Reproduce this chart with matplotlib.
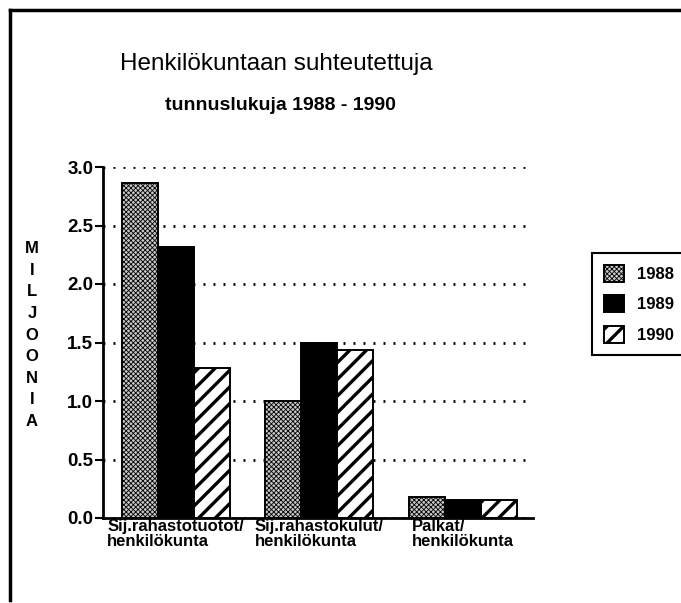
import matplotlib
matplotlib.use("Agg")
import matplotlib.pyplot as plt
import numpy as np
from matplotlib.lines import Line2D

plt.rcParams['font.family'] = ['Liberation Sans', 'DejaVu Sans']
plt.rcParams['hatch.linewidth'] = 2.4
plt.rcParams['hatch.color'] = 'black'

# Data
categories = ['Sij.rahastotuotot/\nhenkilökunta',
              'Sij.rahastokulut/\nhenkilökunta',
              'Palkat/\nhenkilökunta']
years = ['1988', '1989', '1990']
values_1988 = [2.86, 1.00, 0.18]
values_1989 = [2.32, 1.50, 0.15]
values_1990 = [1.28, 1.44, 0.15]
y_ticks = [0.0, 0.5, 1.0, 1.5, 2.0, 2.5, 3.0]

W, H = 681, 603
fig = plt.figure(figsize=(W / 100, H / 100), dpi=100)

# axes placed by pixel estimates of the original
ax = fig.add_axes([103 / W, 1 - 518 / H, 430 / W, 351 / H])

x = np.arange(len(categories))
width = 0.25
# 1988 is a fine grey stipple, 1989 solid, 1990 heavy diagonal stripes
styles = [
    dict(facecolor='#c8c8c8', hatch='xxxxxxx', hlw=0.6),
    dict(facecolor='black', hatch=None, hlw=None),
    dict(facecolor='white', hatch='//', hlw=None),
]
series = [values_1988, values_1989, values_1990]

for i, (vals, st, yr) in enumerate(zip(series, styles, years)):
    bars = ax.bar(x + (i - 1) * width, vals, width, facecolor=st['facecolor'],
                  edgecolor='black', linewidth=1.4, hatch=st['hatch'],
                  label=yr, zorder=3)
    if st['hlw'] is not None:
        for b in bars:
            if hasattr(b, 'set_hatch_linewidth'):
                b.set_hatch_linewidth(st['hlw'])

ax.set_xlim(-0.507, 2.49)
ax.set_ylim(0, 3.0)
ax.set_yticks(y_ticks)
ax.set_yticklabels([f'{t:.1f}' for t in y_ticks], fontsize=13.5, fontweight='bold')
ax.set_xticks(x)
ax.set_xticklabels(categories, fontsize=12, fontweight='bold',
                   linespacing=0.95, multialignment='left')
ax.tick_params(axis='x', length=0, pad=1)
ax.tick_params(axis='y', length=6, width=1.5, pad=1, direction='out')

for s in ['top', 'right']:
    ax.spines[s].set_visible(False)
ax.spines['left'].set_linewidth(2)
ax.spines['bottom'].set_linewidth(2)

ax.yaxis.grid(True, linestyle=(0, (0.7, 2.9)), linewidth=2, color='black')
ax.set_axisbelow(True)

# titles
fig.text(276 / W, 1 - 70 / H, 'Henkilökuntaan suhteutettuja', ha='center',
         va='baseline', fontsize=17.5)
fig.text(280 / W, 1 - 110 / H, 'tunnuslukuja 1988 - 1990', ha='center',
         va='baseline', fontsize=14, fontweight='bold')

# stacked vertical axis label
fig.text(32 / W, 1 - 335 / H, '\n'.join('MILJOONIA'), ha='center', va='center',
         fontsize=12, fontweight='bold', linespacing=1.55)

# legend
leg = fig.legend(loc='upper left', bbox_to_anchor=(592 / W, 1 - 253 / H),
                 bbox_transform=fig.transFigure,
                 prop={'weight': 'bold', 'size': 12},
                 handlelength=1.2, handleheight=1.2, handletextpad=0.8,
                 labelspacing=0.8, borderpad=0.7, borderaxespad=0,
                 fancybox=False, framealpha=1, edgecolor='black')
leg.get_frame().set_linewidth(1.5)
h0 = leg.legend_handles[0]
if hasattr(h0, 'set_hatch_linewidth'):
    h0.set_hatch_linewidth(0.6)

# outer frame of the page
fig.add_artist(Line2D([10 / W, 1], [1 - 10 / H, 1 - 10 / H], color='black',
                      linewidth=2.5, transform=fig.transFigure))
fig.add_artist(Line2D([10 / W, 10 / W], [1 - 10 / H, 1 - 600 / H], color='black',
                      linewidth=2.5, transform=fig.transFigure))

fig.savefig('out.png', dpi=100)
